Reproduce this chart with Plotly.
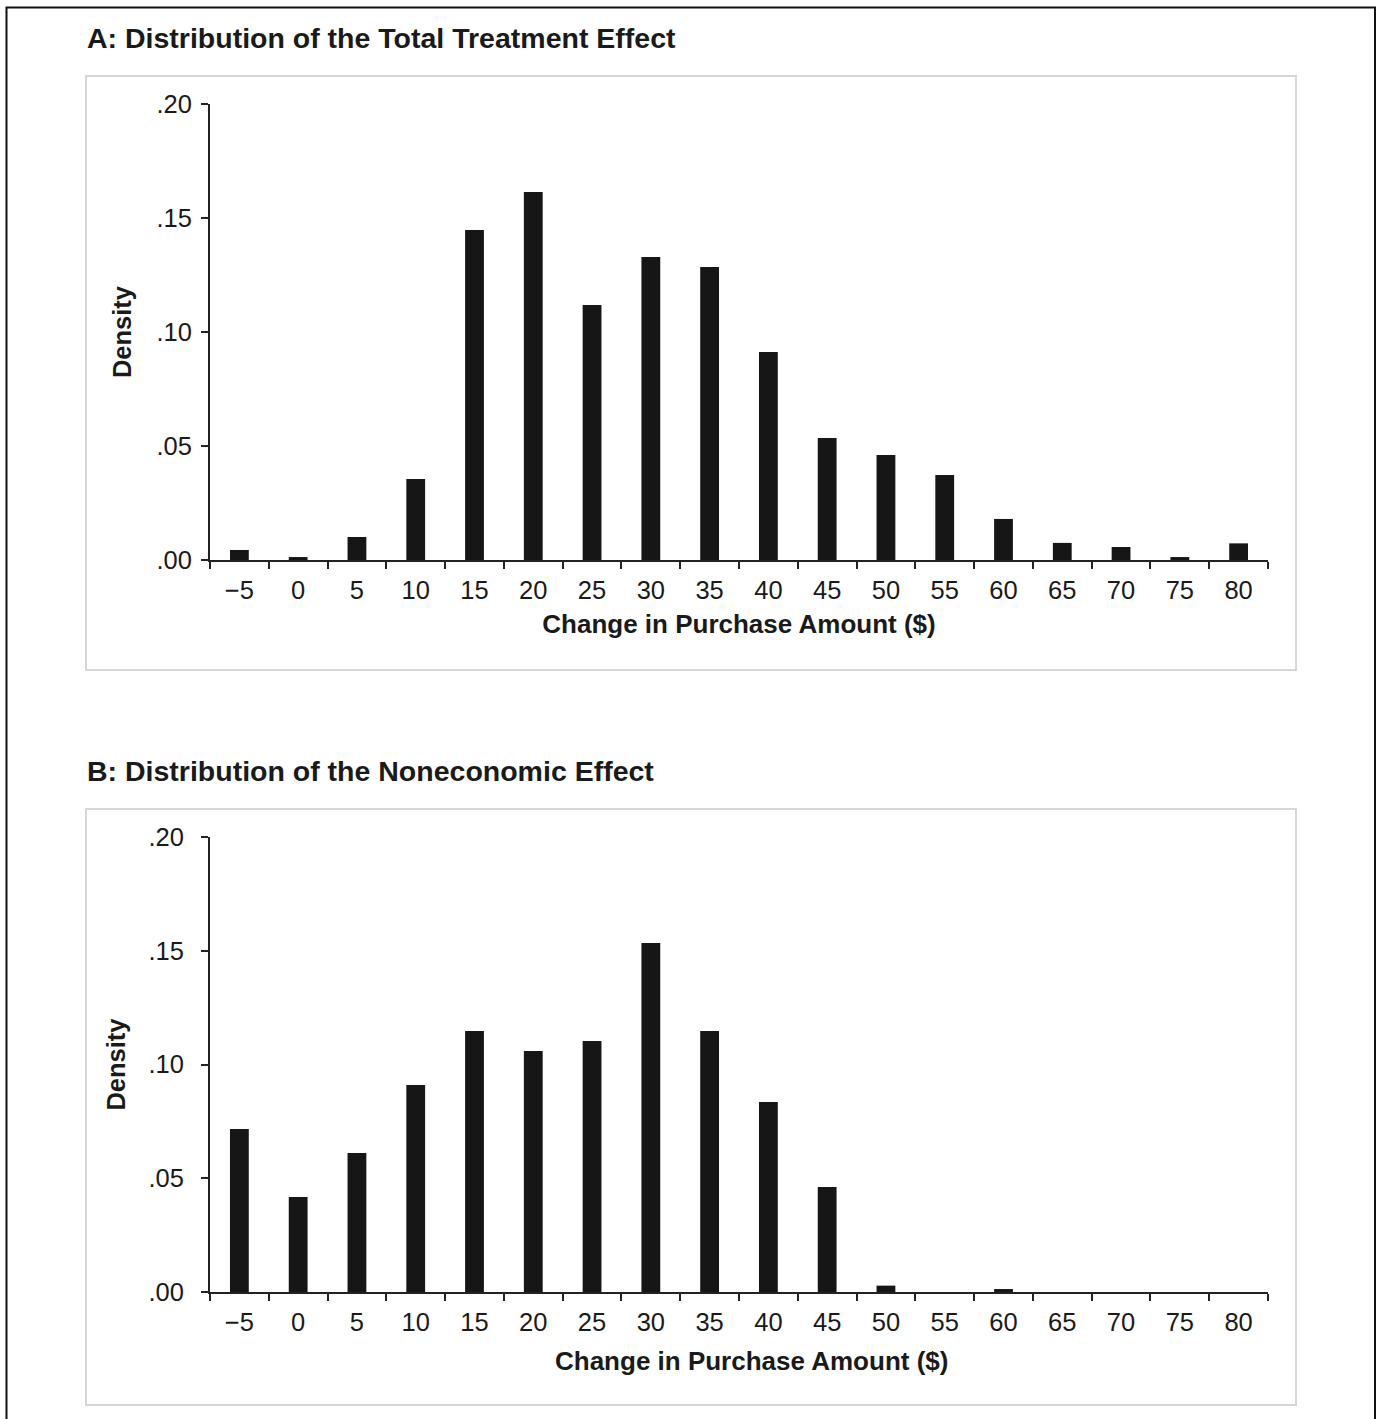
import plotly.graph_objects as go

W, H = 1378, 1419

categories = ["\u22125", "0", "5", "10", "15", "20", "25", "30", "35", "40",
              "45", "50", "55", "60", "65", "70", "75", "80"]
total_effect = [0.0044, 0.0013, 0.0101, 0.0355, 0.1447, 0.1614, 0.1118, 0.1329,
                0.1285, 0.0912, 0.0535, 0.0461, 0.0373, 0.0180, 0.0075, 0.0057,
                0.0013, 0.0073]
noneconomic_effect = [0.0716, 0.0418, 0.0611, 0.0910, 0.1147, 0.1059, 0.1103,
                      0.1534, 0.1147, 0.0835, 0.0462, 0.0028, 0.0, 0.0013, 0.0,
                      0.0, 0.0, 0.0]
ytick_vals = [0.0, 0.05, 0.10, 0.15, 0.20]
ytick_text = [".00", ".05", ".10", ".15", ".20"]
panel_titles = ["A: Distribution of the Total Treatment Effect",
                "B: Distribution of the Noneconomic Effect"]
x_title = "Change in Purchase Amount ($)"
y_title = "Density"

FONT = "Liberation Sans, Arial, Helvetica, sans-serif"
BAR = "#161616"
AX = "#222222"
TXT = "#1a1a1a"


def px(x):
    return x / W


def py(y):
    return 1 - y / H


fig = go.Figure()
fig.add_trace(go.Bar(x=categories, y=total_effect, marker=dict(color=BAR, line=dict(width=0)),
                     xaxis="x", yaxis="y", showlegend=False))
fig.add_trace(go.Bar(x=categories, y=noneconomic_effect, marker=dict(color=BAR, line=dict(width=0)),
                     xaxis="x2", yaxis="y2", showlegend=False))

xdom = [px(210), px(1268)]
xcommon = dict(type="category", range=[-0.5, 17.5], tickson="boundaries", ticks="outside",
               ticklen=7, tickwidth=2, tickcolor=AX, showline=True, linecolor=AX, linewidth=2,
               showgrid=False, zeroline=False, tickfont=dict(family=FONT, size=25.5, color=TXT),
               fixedrange=True, domain=xdom, automargin=False, ticklabelstandoff=6)
ycommon = dict(range=[0, 0.2], tickmode="array", tickvals=ytick_vals, ticktext=ytick_text,
               ticks="outside", ticklen=7, tickwidth=2, tickcolor=AX, showline=True, linecolor=AX,
               linewidth=2, showgrid=False, zeroline=False, automargin=False,
               tickfont=dict(family=FONT, size=25.5, color=TXT), fixedrange=True)

fig.update_layout(
    template="none",
    width=W, height=H,
    margin=dict(l=0, r=0, t=0, b=0, autoexpand=False),
    paper_bgcolor="white", plot_bgcolor="white",
    bargap=0.68,
    font=dict(family=FONT, color=TXT),
    xaxis=dict(**xcommon, anchor="y",
               title=dict(text="<b>" + x_title + "</b>", font=dict(family=FONT, size=26, color=TXT), standoff=12)),
    yaxis=dict(**ycommon, anchor="x", domain=[py(560), py(104)], ticklabelstandoff=4,
               title=dict(text="<b>" + y_title + "</b>", font=dict(family=FONT, size=25.5, color=TXT), standoff=18)),
    xaxis2=dict(**xcommon, anchor="y2"),
    yaxis2=dict(**ycommon, anchor="x2", domain=[py(1292), py(837)], ticklabelstandoff=12,
                title=dict(text="<b>" + y_title + "</b>", font=dict(family=FONT, size=25.5, color=TXT), standoff=16)),
)

NOFILL = "rgba(0,0,0,0)"
shapes = [
    # outer border (left, top, right)
    dict(type="path", xref="paper", yref="paper", layer="below", opacity=1, fillcolor=NOFILL,
         path=f"M {px(6.5)} {py(1422)} L {px(6.5)} {py(7.5)} L {px(1375)} {py(7.5)} L {px(1375)} {py(1422)}",
         line=dict(color="#111111", width=2)),
    # panel boxes
    dict(type="rect", xref="paper", yref="paper", layer="below", opacity=1, fillcolor=NOFILL,
         x0=px(86), y0=py(670), x1=px(1296), y1=py(76),
         line=dict(color="#d6d6d6", width=2)),
    dict(type="rect", xref="paper", yref="paper", layer="below", opacity=1, fillcolor=NOFILL,
         x0=px(86), y0=py(1405), x1=px(1296), y1=py(809),
         line=dict(color="#d6d6d6", width=2)),
]
fig.update_layout(shapes=shapes)

annotations = [
    dict(text="<b>" + panel_titles[0] + "</b>", xref="paper", yref="paper", x=px(85), y=py(38),
         xanchor="left", yanchor="middle", showarrow=False, font=dict(family=FONT, size=28.5, color=TXT)),
    dict(text="<b>" + panel_titles[1] + "</b>", xref="paper", yref="paper", x=px(85), y=py(771),
         xanchor="left", yanchor="middle", showarrow=False, font=dict(family=FONT, size=28.5, color=TXT)),
    # x-axis title of panel B (placed slightly right of centre, as in the original)
    dict(text="<b>" + x_title + "</b>", xref="paper", yref="paper", x=px(751), y=py(1361),
         xanchor="center", yanchor="middle", showarrow=False, font=dict(family=FONT, size=26, color=TXT)),
]
fig.update_layout(annotations=annotations)

fig.write_html("out.html",
               config={"displayModeBar": False, "staticPlot": True},
               post_script="document.body.style.margin='0px';document.body.style.overflow='hidden';")
